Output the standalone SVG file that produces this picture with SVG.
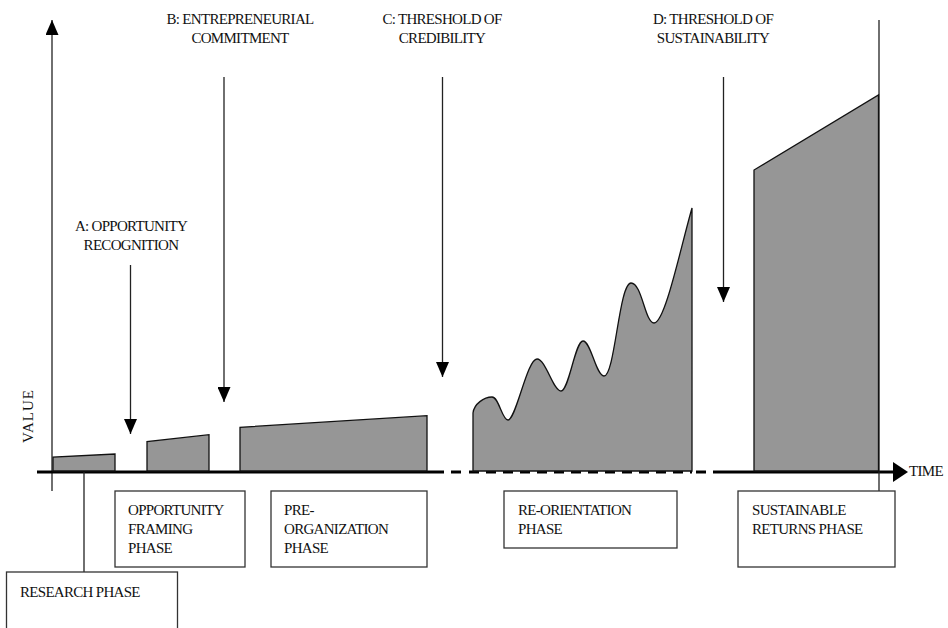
<svg xmlns="http://www.w3.org/2000/svg" width="948" height="628" viewBox="0 0 948 628">
<defs>
<style>
text{font-family:"Liberation Serif","Times New Roman",serif;font-size:15px;letter-spacing:-0.7px;fill:#111}
.lbl{text-anchor:middle}
.area{fill:#969696;stroke:#111;stroke-width:1.3}
.box{fill:#fff;stroke:#333;stroke-width:1.3}
.ln{stroke:#222;stroke-width:1.3;fill:none}
.ax{stroke:#000;stroke-width:3;fill:none}
</style>
<marker id="ah" viewBox="0 0 15 13" refX="15" refY="6.5" markerWidth="15" markerHeight="13" markerUnits="userSpaceOnUse" orient="auto">
<path d="M0,0 L15,6.5 L0,13 Z" fill="#000"/>
</marker>
</defs>
<rect width="948" height="628" fill="#fff"/>

<g id="connectors">
<line class="ln" x1="52" y1="491" x2="52" y2="20" marker-end="url(#ah)"/>
<line class="ax" x1="37" y1="472" x2="444" y2="472"/>
<line class="ax" x1="451" y1="472" x2="461" y2="472"/>
<line class="ax" x1="469" y1="472" x2="692" y2="472" stroke-dasharray="10,7"/>
<line class="ax" x1="696" y1="472" x2="706" y2="472"/>
<line class="ax" x1="713" y1="472" x2="894" y2="472"/>
<polygon points="893,462 908,472 893,482" fill="#000"/>
<line class="ln" x1="130.5" y1="265" x2="130.5" y2="434" marker-end="url(#ah)"/>
<line class="ln" x1="224" y1="77" x2="224" y2="402" marker-end="url(#ah)"/>
<line class="ln" x1="442.5" y1="77" x2="442.5" y2="377" marker-end="url(#ah)"/>
<line class="ln" x1="723.5" y1="77" x2="723.5" y2="302" marker-end="url(#ah)"/>
<line class="ln" x1="84" y1="472" x2="84" y2="572"/>
<line class="ln" x1="879" y1="20" x2="879" y2="491"/>
</g>

<g id="area-research"><polygon class="area" points="53,471 53,457 115,454 115,471"/></g>
<g id="area-framing"><polygon class="area" points="147,471 147,441.7 209,434.7 209,471"/></g>
<g id="area-preorg"><polygon class="area" points="240,471 240,427.3 427,415.7 427,471"/></g>
<g id="area-reorientation"><path class="area" d="M473,471 L473,413 C474,404 484,397 492,397 C499,397 502,420 508,420 C516,420 527,359 537,359 C546,359 553,391 561,391 C569,391 575,341 583,341 C591,341 596,376 604,376 C615,376 619,283 631,283 C642,283 645,323 654,323 C665,323 680,250 692,208 L692,471 Z"/></g>
<g id="area-sustainable"><polygon class="area" points="754,471 754,170 878.5,95 878.5,471"/></g>

<g id="axis-labels">
<text transform="translate(33,416) rotate(-90)" class="lbl" style="letter-spacing:1px">VALUE</text>
<text x="909" y="476">TIME</text>
</g>

<g id="milestone-a"><text class="lbl" x="131" y="231">A: OPPORTUNITY</text><text class="lbl" x="131" y="250">RECOGNITION</text></g>
<g id="milestone-b"><text class="lbl" x="240" y="24">B: ENTREPRENEURIAL</text><text class="lbl" x="240" y="43">COMMITMENT</text></g>
<g id="milestone-c"><text class="lbl" x="442" y="24">C: THRESHOLD OF</text><text class="lbl" x="442" y="43">CREDIBILITY</text></g>
<g id="milestone-d"><text class="lbl" x="713" y="24">D: THRESHOLD OF</text><text class="lbl" x="713" y="43">SUSTAINABILITY</text></g>

<g id="box-research"><rect class="box" x="6.5" y="572" width="171" height="80"/><text x="20" y="597">RESEARCH PHASE</text></g>
<g id="box-framing"><rect class="box" x="115" y="491" width="130" height="76"/><text x="128" y="515">OPPORTUNITY</text><text x="128" y="534">FRAMING</text><text x="128" y="553">PHASE</text></g>
<g id="box-preorg"><rect class="box" x="271" y="491" width="156" height="76"/><text x="284" y="515">PRE-</text><text x="284" y="534">ORGANIZATION</text><text x="284" y="553">PHASE</text></g>
<g id="box-reorientation"><rect class="box" x="504" y="491" width="173" height="57"/><text x="518" y="515">RE-ORIENTATION</text><text x="518" y="534">PHASE</text></g>
<g id="box-sustainable"><rect class="box" x="738" y="491" width="157" height="76"/><text x="752" y="515">SUSTAINABLE</text><text x="752" y="534">RETURNS PHASE</text></g>
</svg>
